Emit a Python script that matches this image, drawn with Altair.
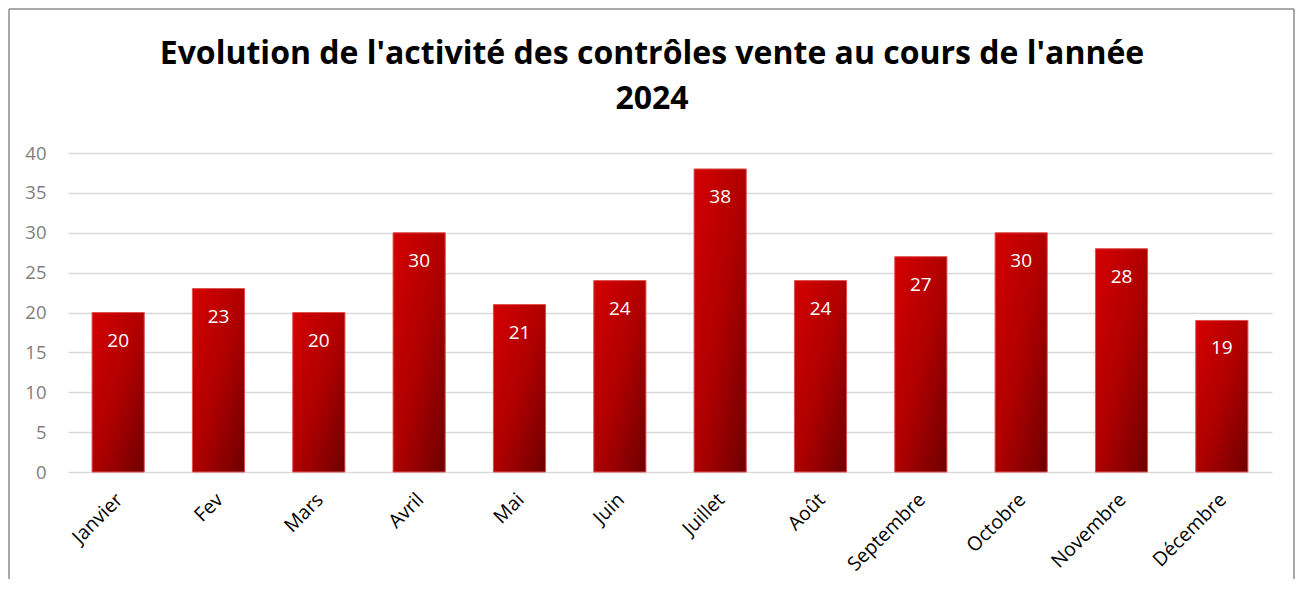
import altair as alt
import pandas as pd

months = ["Janvier", "Fev", "Mars", "Avril", "Mai", "Juin", "Juillet", "Août",
          "Septembre", "Octobre", "Novembre", "Décembre"]
values = [20, 23, 20, 30, 21, 24, 38, 24, 27, 30, 28, 19]
y_ticks = [0, 5, 10, 15, 20, 25, 30, 35, 40]
title_lines = ["Evolution de l'activité des contrôles vente au cours de l'année", "2024"]

df = pd.DataFrame({"Mois": months, "Valeur": values})

W, H = 1204, 319
PL, PT, PR, PB = 60, 145, 23, 107
FONT = "Open Sans"

x_enc = alt.X("Mois:N", sort=months, title=None,
              scale=alt.Scale(paddingInner=0.48, paddingOuter=0.24),
              axis=alt.Axis(labelAngle=-45, labelFontSize=19.5, labelColor="#000000",
                            labelFont=FONT, ticks=False, domain=False, grid=False,
                            labelPadding=18, labelOffset=-5))
y_enc = alt.Y("Valeur:Q", title=None,
              scale=alt.Scale(domain=[0, 40], nice=False),
              axis=alt.Axis(values=y_ticks, labelFontSize=18.5, labelColor="#7f7f7f",
                            labelFont=FONT, ticks=False, domain=False, labelOverlap=False,
                            gridColor="#d9d9d9", gridWidth=1.5, labelPadding=22))

grad = alt.Gradient(gradient="linear",
                    stops=[alt.GradientStop(color="#d40000", offset=0),
                           alt.GradientStop(color="#b00000", offset=0.5),
                           alt.GradientStop(color="#6e0000", offset=1)],
                    x1=0, y1=0, x2=1, y2=1)

bars = alt.Chart(df).mark_bar(color=grad, stroke="#e05050", strokeWidth=1).encode(
    x=x_enc, y=y_enc)

labels = alt.Chart(df).mark_text(color="white", fontSize=19, font=FONT,
                                 baseline="middle", dy=28).encode(
    x=x_enc, y=y_enc, text="Valeur:Q")

title_df = pd.DataFrame({"line": title_lines, "idx": [0, 1]})
title_y = [-89, -44]
title_layers = [
    alt.Chart(title_df).transform_filter(alt.datum.idx == i).mark_text(
        fontSize=32, font=FONT, fontWeight="bold", color="#000000",
        align="center", baseline="alphabetic").encode(
        text="line:N", x=alt.value(584), y=alt.value(title_y[i]))
    for i in range(2)
]

one = pd.DataFrame({"a": [0]})
border_col = "#8c8c8c"
left = alt.Chart(one).mark_rule(color=border_col, strokeWidth=1.5).encode(
    x=alt.value(-PL + 1), y=alt.value(-PT + 1), y2=alt.value(H + PB))
top = alt.Chart(one).mark_rule(color=border_col, strokeWidth=1.5).encode(
    x=alt.value(-PL + 1), x2=alt.value(W + PR - 1), y=alt.value(-PT + 1))
right = alt.Chart(one).mark_rule(color=border_col, strokeWidth=1.5).encode(
    x=alt.value(W + PR - 1), y=alt.value(-PT + 1), y2=alt.value(H + PB))

chart = alt.layer(bars, labels, *title_layers, left, top, right).properties(
    width=W, height=H,
    padding={"left": PL, "top": PT, "right": PR, "bottom": PB},
    autosize=alt.AutoSizeParams(type="none"),
).configure_view(stroke=None)

chart.save("out.html", embed_options={"renderer": "svg", "actions": False})
